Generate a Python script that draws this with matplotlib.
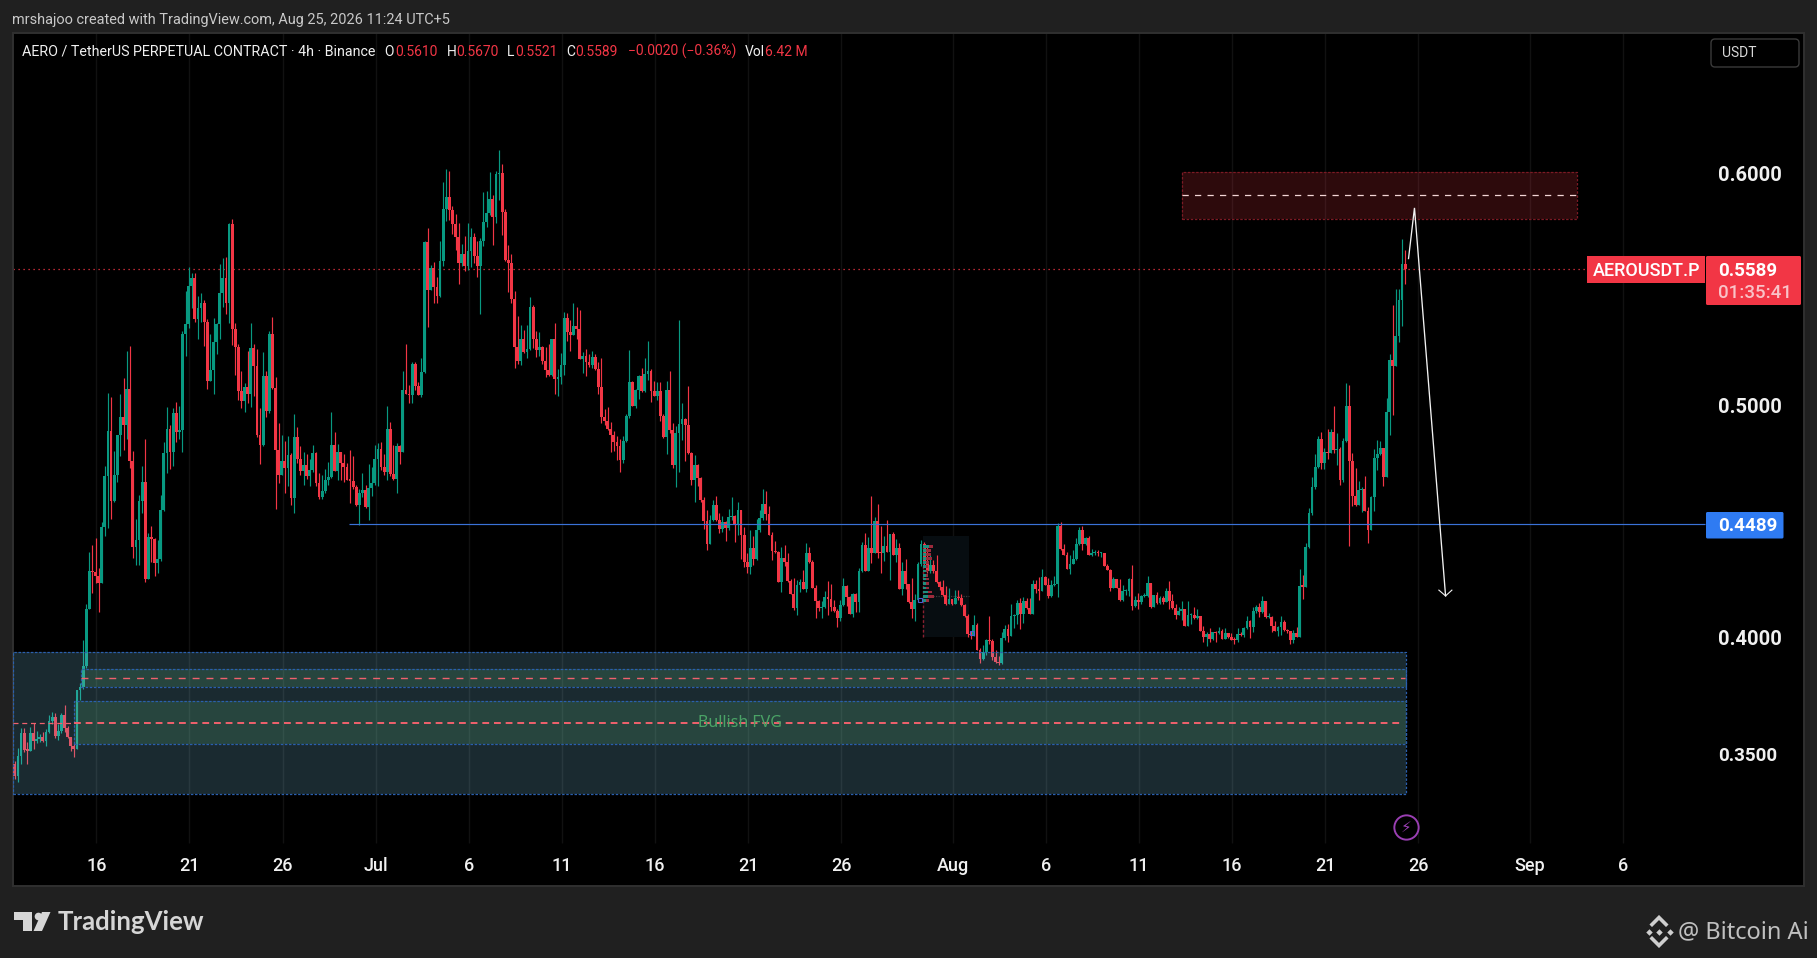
import numpy as np
import matplotlib
matplotlib.use("Agg")
import matplotlib.pyplot as plt
from matplotlib.patches import Rectangle, FancyBboxPatch, Polygon

# 4h candles, open of each bar is the close of the one before
first_open = 0.3458
closes = [
    .3406,.3492,.3591,.3518,.3516,.3591,.3558,.3565,.3573,.3557,
    .3595,.3641,.3661,.3578,.3598,.3669,.3614,.3575,.3535,.3522,
    .3776,.3788,.3879,.4123,.4288,.4285,.4267,.4238,.4477,.4697,
    .4890,.4591,.4700,.4872,.4951,.4918,.5071,.4763,.4393,.4421,
    .4589,.4671,.4255,.4434,.4427,.4324,.4340,.4549,.4796,.4899,
    .4801,.4968,.4885,.4893,.5308,.5351,.5514,.5549,.5371,.5420,
    .5441,.5358,.5107,.5153,.5273,.5351,.5484,.5549,.5440,.5781,
    .5329,.5253,.5064,.5021,
    .5079,.5049,.5247,.5171,.4871,.4831,.5127,.4978,.5307,.5075,
    .4810,.4701,.4761,.4731,.4787,.4602,.4864,.4770,.4718,.4744,
    .4697,.4722,.4795,.4666,.4606,.4632,.4679,.4692,.4830,.4718,
    .4800,.4752,.4735,.4679,.4677,.4649,.4572,.4622,.4635,.4563,
    .4645,.4666,.4770,.4813,.4735,.4714,.4899,.4705,.4684,.4826,
    .4800,.5067,.5049,.5045,.5178,.5084,.5045,.5144,.5703,.5497,
    .5591,.5510,.5471,.5621,.5845,.5897,.5841,.5781,.5725,.5613,
    .5652,.5600,.5664,.5725,.5643,.5600,.5708,.5789,.5828,.5888,
    .5811,.5996,.6000,.5832,.5626,.5613,.5458,.5252,.5191,.5286,
    .5230,.5243,.5424,.5286,.5239,.5252,.5191,.5153,.5131,.5286,
    .5114,.5122,.5174,.5376,.5316,.5303,.5342,.5329,.5200,.5213,
    .5187,.5174,.5208,.5157,.5079,.4950,.4933,.4899,.4873,.4843,
    .4826,.4765,.4847,.4955,.5101,.4998,.5067,.5127,.5062,.5135,
    .5148,.5062,.5041,.5062,.4955,.4864,.5067,.4894,.4744,.4882,
    .4920,.4942,.4916,.4795,.4679,.4744,.4688,.4593,.4503,.4404,
    .4508,.4572,.4508,.4469,.4498,.4472,.4519,.4525,.4488,.4551,
    .4443,.4327,.4306,.4387,.4340,.4465,.4516,.4577,.4534,.4443,
    .4374,.4370,.4241,.4344,.4327,.4245,.4189,.4129,.4228,.4241,
    .4211,.4366,.4327,.4215,.4159,.4129,.4135,.4177,.4168,.4134,
    .4116,.4086,.4142,.4224,.4177,.4103,.4189,.4155,.4288,.4400,
    .4288,.4387,.4366,.4504,.4366,.4364,.4396,.4370,.4448,.4357,
    .4387,.4211,.4288,.4232,.4155,.4125,.4164,.4319,.4405,.4329,
    .4288,.4316,.4288,.4241,.4218,
    .4185,.4147,.4168,.4147,.4172,.4170,.4142,.4095,.4018,.4014,
    .4056,.3949,.3910,.3940,.3992,.3987,.3919,.3897,.3893,.4000,
    .4039,.4009,.4095,.4099,.4151,.4104,.4159,.4129,.4104,.4233,
    .4211,.4203,.4263,.4228,.4181,.4228,.4233,.4482,.4383,.4357,
    .4297,.4319,.4339,.4405,.4465,.4405,.4431,.4357,.4366,.4367,
    .4365,.4366,.4310,.4293,.4215,.4254,.4217,.4164,.4201,.4204,
    .4254,.4138,.4164,.4155,.4181,.4182,.4237,.4134,.4185,.4151,
    .4172,.4155,.4203,.4159,
    .4130,.4099,.4116,.4125,.4051,.4099,.4100,.4084,.4094,.4031,
    .4006,.4017,.3996,.4024,.4020,.4029,.3996,.4020,.4006,.3993,
    .3991,.4017,.4014,.4043,.4071,.4049,.4115,.4135,.4110,.4159,
    .4089,.4092,.4051,.4031,.4046,.4069,.4034,.4030,.3991,.4020,
    .4006,.4224,.4221,.4391,.4538,.4649,.4735,.4856,.4753,.4800,
    .4794,.4886,.4809,.4811,.4680,.4847,.4998,.4761,.4611,.4572,
    .4636,.4641,.4546,.4464,.4606,.4774,.4791,.4817,.4692,.4972,
    .5196,.5170,.5299,.5454,.5609,.5589,
]
highs = [
    .3471,.3525,.3613,.3611,.3554,.3618,.3633,.3601,.3587,.3597,
    .3607,.3669,.3682,.3676,.3630,.3676,.3712,.3621,.3575,.3547,
    .3776,.3805,.3991,.4146,.4370,.4400,.4430,.4300,.4500,.4740,
    .5052,.5037,.4804,.4873,.5048,.5118,.5235,.5256,.4804,.4512,
    .4615,.4740,.4856,.4450,.4482,.4430,.4421,.4615,.4843,.4994,
    .4916,.4988,.5015,.4998,.5321,.5493,.5597,.5569,.5569,.5471,
    .5484,.5454,.5371,.5308,.5377,.5354,.5607,.5635,.5640,.5785,
    .5802,.5354,.5265,.5149,
    .5095,.5234,.5355,.5264,.5243,.4989,.5230,.5148,.5319,.5381,
    .5122,.4923,.4873,.4847,.4869,.4795,.4963,.4907,.4826,.4800,
    .4791,.4770,.4830,.4800,.4709,.4701,.4727,.4757,.4972,.4886,
    .4834,.4800,.4791,.4752,.4808,.4783,.4658,.4643,.4709,.4658,
    .4748,.4735,.4830,.4839,.4843,.4791,.4998,.4929,.4830,.4839,
    .4830,.5148,.5264,.5088,.5187,.5187,.5101,.5204,.5708,.5763,
    .5604,.5617,.5553,.5708,.5961,.6017,.6009,.5858,.5824,.5785,
    .5695,.5729,.5785,.5763,.5740,.5708,.5719,.5918,.5923,.6004,
    .5905,.6009,.6099,.6039,.5845,.5690,.5652,.5492,.5385,.5346,
    .5325,.5346,.5467,.5432,.5320,.5316,.5256,.5252,.5264,.5286,
    .5355,.5157,.5226,.5402,.5398,.5368,.5441,.5424,.5411,.5230,
    .5243,.5221,.5234,.5221,.5187,.5204,.4985,.4993,.4929,.4890,
    .4869,.4856,.4869,.4963,.5239,.5105,.5071,.5131,.5161,.5204,
    .5277,.5157,.5105,.5101,.5101,.4963,.5105,.5148,.4925,.4912,
    .5368,.5011,.4946,.5084,.4800,.4787,.4748,.4692,.4606,.4550,
    .4529,.4594,.4611,.4538,.4525,.4504,.4555,.4607,.4529,.4585,
    .4551,.4478,.4366,.4465,.4439,.4512,.4551,.4641,.4633,.4568,
    .4456,.4417,.4374,.4392,.4400,.4366,.4254,.4258,.4250,.4254,
    .4293,.4409,.4392,.4336,.4228,.4164,.4159,.4202,.4245,.4232,
    .4164,.4125,.4164,.4258,.4228,.4181,.4194,.4194,.4301,.4413,
    .4452,.4435,.4611,.4521,.4577,.4482,.4439,.4508,.4448,.4456,
    .4426,.4409,.4327,.4340,.4232,.4258,.4189,.4327,.4422,.4415,
    .4400,.4357,.4336,.4357,.4244,
    .4250,.4224,.4215,.4168,.4207,.4207,.4190,.4147,.4104,.4028,
    .4099,.4065,.3957,.3970,.3996,.4095,.3996,.3949,.3923,.4026,
    .4056,.4061,.4147,.4104,.4164,.4172,.4177,.4172,.4172,.4250,
    .4250,.4263,.4297,.4266,.4257,.4250,.4267,.4495,.4499,.4405,
    .4370,.4357,.4379,.4431,.4478,.4482,.4433,.4439,.4383,.4379,
    .4379,.4372,.4366,.4319,.4297,.4263,.4254,.4254,.4228,.4211,
    .4258,.4314,.4181,.4192,.4185,.4192,.4267,.4237,.4185,.4198,
    .4181,.4181,.4215,.4246,
    .4189,.4146,.4135,.4159,.4125,.4159,.4109,.4132,.4125,.4090,
    .4051,.4026,.4043,.4027,.4029,.4046,.4037,.4041,.4023,.4020,
    .4004,.4043,.4026,.4046,.4094,.4076,.4132,.4140,.4149,.4180,
    .4159,.4109,.4094,.4073,.4053,.4094,.4077,.4037,.4030,.4034,
    .4047,.4297,.4271,.4408,.4559,.4692,.4791,.4869,.4886,.4817,
    .4899,.4899,.4998,.4882,.4821,.4860,.5097,.5088,.4796,.4731,
    .4675,.4649,.4697,.4563,.4611,.4813,.4852,.4847,.4817,.5032,
    .5222,.5432,.5501,.5501,.5716,.5670,
]
lows = [
    .3392,.3382,.3458,.3511,.3458,.3518,.3521,.3550,.3552,.3554,
    .3535,.3591,.3630,.3570,.3561,.3590,.3597,.3568,.3514,.3489,
    .3522,.3733,.3779,.3869,.4123,.4195,.4235,.4113,.4238,.4440,
    .4472,.4512,.4586,.4672,.4783,.4809,.4857,.4733,.4345,.4315,
    .4315,.4539,.4242,.4255,.4328,.4268,.4281,.4333,.4545,.4711,
    .4728,.4741,.4843,.4857,.4801,.5213,.5335,.5421,.5361,.5288,
    .5358,.5256,.5072,.5110,.5050,.5222,.5285,.5425,.5394,.5354,
    .5260,.5131,.5024,.4991,
    .4973,.5009,.4995,.5041,.4864,.4748,.4826,.4952,.4968,.5069,
    .4555,.4666,.4701,.4623,.4654,.4572,.4537,.4754,.4701,.4658,
    .4682,.4654,.4714,.4654,.4598,.4600,.4625,.4658,.4688,.4718,
    .4679,.4679,.4671,.4679,.4580,.4641,.4567,.4484,.4606,.4559,
    .4507,.4610,.4658,.4654,.4722,.4701,.4679,.4697,.4679,.4623,
    .4748,.4800,.5049,.5011,.5011,.5067,.5045,.5036,.5140,.5338,
    .5497,.5441,.5441,.5467,.5600,.5794,.5798,.5738,.5669,.5523,
    .5600,.5578,.5583,.5596,.5611,.5553,.5393,.5686,.5768,.5819,
    .5690,.5785,.5884,.5733,.5621,.5488,.5441,.5161,.5178,.5174,
    .5226,.5204,.5239,.5247,.5208,.5213,.5178,.5122,.5127,.5127,
    .5049,.5041,.5092,.5131,.5277,.5234,.5303,.5286,.5200,.5140,
    .5127,.5165,.5161,.5153,.5049,.4925,.4916,.4894,.4800,.4804,
    .4765,.4714,.4752,.4843,.4946,.4998,.4989,.5028,.5058,.5058,
    .5110,.5015,.5041,.5023,.4933,.4860,.4791,.4882,.4731,.4649,
    .4714,.4851,.4761,.4791,.4658,.4585,.4654,.4585,.4469,.4378,
    .4405,.4504,.4505,.4452,.4456,.4417,.4465,.4508,.4415,.4443,
    .4340,.4306,.4280,.4276,.4314,.4336,.4456,.4508,.4508,.4443,
    .4336,.4366,.4241,.4198,.4310,.4241,.4189,.4121,.4099,.4198,
    .4211,.4198,.4321,.4215,.4086,.4116,.4086,.4129,.4099,.4116,
    .4112,.4048,.4073,.4138,.4138,.4103,.4091,.4112,.4112,.4284,
    .4288,.4288,.4321,.4366,.4344,.4280,.4331,.4370,.4250,.4357,
    .4327,.4211,.4185,.4211,.4149,.4085,.4073,.4159,.4310,.4307,
    .4278,.4278,.4278,.4235,.4207,
    .4181,.4142,.4147,.4142,.4147,.4164,.4138,.4092,.4005,.3995,
    .4008,.3949,.3893,.3906,.3927,.3975,.3906,.3893,.3884,.3888,
    .3992,.3983,.4009,.4043,.4061,.4039,.4065,.4125,.4104,.4104,
    .4194,.4164,.4203,.4228,.4172,.4177,.4224,.4177,.4379,.4357,
    .4297,.4276,.4319,.4336,.4400,.4379,.4400,.4357,.4353,.4357,
    .4353,.4350,.4310,.4293,.4201,.4215,.4215,.4159,.4159,.4185,
    .4181,.4121,.4134,.4125,.4147,.4178,.4177,.4129,.4134,.4147,
    .4147,.4147,.4155,.4125,
    .4123,.4082,.4099,.4077,.4051,.4051,.4060,.4082,.4082,.4031,
    .3984,.3965,.3983,.3991,.3984,.4017,.3996,.3996,.3998,.3991,
    .3974,.3983,.4008,.4006,.4037,.4000,.4027,.4106,.4092,.4106,
    .4086,.4086,.4027,.4031,.4008,.4013,.4030,.4020,.3974,.3980,
    .4003,.4006,.4168,.4219,.4387,.4529,.4641,.4731,.4727,.4727,
    .4770,.4794,.4794,.4744,.4658,.4671,.4843,.4397,.4568,.4568,
    .4581,.4542,.4546,.4408,.4464,.4546,.4723,.4787,.4654,.4692,
    .4873,.4959,.5170,.5273,.5342,.5521,
]

# x positions are days counted from 16 Jun
last_bar_day = 70.29
tick_days = [0, 5, 10, 15, 20, 25, 30, 35, 40, 46, 51, 56, 61, 66, 71, 77, 82]
tick_labels = ["16", "21", "26", "Jul", "6", "11", "16", "21", "26", "Aug",
               "6", "11", "16", "21", "26", "Sep", "6"]
price_ticks = [0.35, 0.40, 0.50, 0.60]
level_price = 0.4489
last_price = 0.5589

# drawings
supply_zone = (58.3, 79.5, 0.5804, 0.6004, 0.5904)
outer_zone = (-4.5, 70.32, 0.3328, 0.3938)
fvg_upper = (-0.80, 70.32, 0.3788, 0.3865, 0.3827)
fvg_lower = (-1.20, 70.32, 0.3543, 0.3729, 0.3636)
arrow_days = [70.47, 70.79, 72.46]
arrow_prices = [0.5632, 0.5850, 0.4181]
head_days = [72.10, 72.46, 72.80]
head_prices = [0.4206, 0.4181, 0.4206]
profile_prices = [.4393, .4376, .4359, .4341, .4324, .4307, .4288,
                  .4270, .4253, .4234, .4215, .4197, .4179, .4162]
profile_up = [.32, .16, .16, .16, .16, .16, .16, .16, .16, .16, .16, .27, .27, .16]
profile_down = [.21, .27, .27, .32, .16, .11, .11, .11, .16, .16, .16, .21, .32, .16]

UP = "#089981"
DOWN = "#f23645"
BG = "#202020"
W, H = 1817, 958
AX_L, AX_R, AX_T, AX_B = 12.6, 1804, 33, 886
FONT = "Roboto"

fig = plt.figure(figsize=(W / 100, H / 100), dpi=100, facecolor=BG)
ax = fig.add_axes([AX_L / W, 1 - AX_B / H, (AX_R - AX_L) / W, (AX_B - AX_T) / H], facecolor="black")
ax.set_xlim(-4.5, 91.71)
ax.set_ylim(0.29333, 0.66022)
for s in ax.spines.values():
    s.set_color("#303030")
    s.set_linewidth(1.4)

# vertical grid
ax.vlines(tick_days, 0.31183, 0.66022, color="#111111", lw=1, zorder=1)

# candles
closes = np.array(closes)
opens = np.r_[first_open, closes[:-1]]
highs = np.maximum(np.array(highs), np.maximum(opens, closes))
lows = np.minimum(np.array(lows), np.minimum(opens, closes))
days = last_bar_day - (len(closes) - 1 - np.arange(len(closes))) / 6
colors = np.where(closes >= opens, UP, DOWN)
ax.vlines(days, lows, highs, colors=colors, lw=0.85, zorder=3)
ax.bar(days, np.maximum(np.abs(closes - opens), 0.0005), bottom=np.minimum(opens, closes),
       width=0.15, color=colors, linewidth=0, zorder=3)

# zones go over the candles, they are see-through
def zone(x0, x1, y0, y1, fill, alpha, edge, zorder=4):
    ax.add_patch(Rectangle((x0, y0), x1 - x0, y1 - y0, facecolor=fill, alpha=alpha,
                           edgecolor="none", zorder=zorder))
    ax.add_patch(Rectangle((x0, y0), x1 - x0, y1 - y0, fill=False, edgecolor=edge,
                           lw=0.9, ls=(0, (2, 1.3)), zorder=zorder))

zone(*outer_zone, "#87d7f5", 0.20, "#2a5fae")
zone(*fvg_upper[:4], "#5cb277", 0.20, "#2a5fae")
zone(*fvg_lower[:4], "#5cb277", 0.20, "#2a5fae")
ax.hlines(fvg_upper[4], fvg_upper[0], 70.26, color="#f0616d", lw=1.0, ls=(0, (5, 5)), zorder=5)
ax.hlines(fvg_lower[4], -4.5, -1.2, color="#f0616d", lw=0.9, ls=(0, (4, 3)), zorder=5)
ax.hlines(fvg_lower[4], -1.2, 70.0, color="#f0616d", lw=1.4, ls=(0, (3.5, 2.5)), zorder=5)
ax.text(34.55, fvg_lower[4], "Bullish FVG", color="#4aa366", fontsize=11.5, ha="center", va="center",
        family="Noto Sans", zorder=6)

zone(supply_zone[0], supply_zone[1], supply_zone[2], supply_zone[3], "#f23645", 0.19, "#7c1a24", zorder=2)
ax.hlines(supply_zone[4], supply_zone[0], supply_zone[1], color="#f3d5d5", lw=0.9, ls=(0, (5, 5)), zorder=5)

# last price and level lines
ax.hlines(last_price, -4.5, 80.05, color=DOWN, lw=0.9, ls=(0, (1, 3)), zorder=2)
ax.hlines(level_price, 13.57, 86.4, color="#3a72d8", lw=0.85, zorder=5)

# small anchored profile around the end of July
ax.add_patch(Rectangle((44.41, 0.4004), 2.45, 0.0435, facecolor="#070d11", edgecolor="none", zorder=2))
ax.hlines(0.4179, 44.41, 46.86, color="#3a3a3a", lw=0.9, ls=(0, (1, 1)), zorder=2)
ax.vlines(44.41, 0.4004, 0.4400, color="#8a2030", lw=1, ls=(0, (2, 1.5)), zorder=4)
ax.barh(profile_prices, profile_up, left=44.41, height=0.0011, color="#1f8f7e", zorder=4)
ax.barh(profile_prices, profile_down, left=44.41 + np.array(profile_up), height=0.0011, color="#9c2a3b", zorder=4)
ax.plot([44.25, 47.05], [0.4165, 0.4020], ls="none", marker="s", ms=3.5, mfc="none", mec="#4a5fd0", mew=0.8, zorder=6)

# forecast arrow
ax.plot(arrow_days, arrow_prices, color="#f2f2f2", lw=0.95, zorder=7, solid_joinstyle="miter")
ax.plot(head_days, head_prices, color="#f2f2f2", lw=0.8, zorder=7)

# lightning badge
ax.plot([70.32], [0.3186], marker="o", ms=17.5, mfc="none", mec="#9a3fb3", mew=1.4, zorder=6)
ax.text(70.32, 0.3186, "\u26a1", color="#9a3fb3", fontsize=11, ha="center", va="center", family="DejaVu Sans", zorder=6)

# axes ticks sit inside the frame, like the chart's own scales
ax.set_xticks(tick_days)
ax.set_xticklabels(tick_labels, family=FONT, fontsize=13, color="#f0f0f0", fontweight="medium")
ax.tick_params(axis="x", length=0, pad=-21)
ax.yaxis.tick_right()
ax.set_yticks(price_ticks)
ax.set_yticklabels(["%.4f" % p for p in price_ticks], family=FONT, fontsize=14.5, color="#f0f0f0", fontweight="bold")
ax.get_yticklabels()[0].set_fontsize(13.5)
ax.tick_params(axis="y", length=0, pad=-62)

# overlay in pixels for the chart chrome
ov = fig.add_axes([0, 0, 1, 1], facecolor="none")
ov.set_xlim(0, W)
ov.set_ylim(H, 0)
ov.axis("off")

ov.text(12, 19.5, "mrshajoo created with TradingView.com, Aug 25, 2026 11:24 UTC+5", color="#c9c9c9",
        fontsize=10.45, family=FONT, va="center")

legend_items = [
    (22, "AERO / TetherUS PERPETUAL CONTRACT \u00b7 4h \u00b7 Binance", "#f0f0f0", 10.3),
    (384.6, "O", "#f0f0f0", 10), (395, "0.5610", DOWN, 10),
    (446.6, "H", "#f0f0f0", 10), (456, "0.5670", DOWN, 10),
    (507, "L", "#f0f0f0", 10), (515.5, "0.5521", DOWN, 10),
    (566, "C", "#f0f0f0", 10), (575, "0.5589", DOWN, 10),
    (628, "\u22120.0020 (\u22120.36%)", DOWN, 10),
    (745, "Vol", "#f0f0f0", 10), (765, "6.42 M", DOWN, 10),
]
for x, txt, col, size in legend_items:
    ov.text(x, 51.5, txt, color=col, fontsize=size, family=FONT, va="center")

# USDT button
ov.add_patch(FancyBboxPatch((1711, 39), 88, 28, boxstyle="round,pad=0,rounding_size=4",
                            facecolor="black", edgecolor="#3a3a3a", lw=1))
ov.text(1722, 53, "USDT", color="#d8d8d8", fontsize=10, family=FONT, va="center")

# price labels
ov.add_patch(Rectangle((1587, 256), 118, 27, color=DOWN, lw=0))
ov.text(1593, 270.5, "AEROUSDT.P", color="white", fontsize=13, family=FONT, fontweight="medium", va="center")
ov.add_patch(FancyBboxPatch((1706, 256), 95, 49, boxstyle="round,pad=0,rounding_size=1.5", color=DOWN, lw=0))
ov.text(1718, 270.5, "%.4f" % last_price, color="white", fontsize=13.5, family=FONT, fontweight="bold", va="center")
ov.text(1718, 293, "01:35:41", color="#f9c3c8", fontsize=13.5, family=FONT, fontweight="medium", va="center")
ov.add_patch(FancyBboxPatch((1706, 512), 77.5, 26.5, boxstyle="round,pad=0,rounding_size=1.5", color="#2f7bf2", lw=0))
ov.text(1718, 526, "%.4f" % level_price, color="white", fontsize=13.5, family=FONT, fontweight="bold", va="center")

# footer logos
ov.add_patch(Polygon([(14, 912), (31.5, 912), (31.5, 931), (23, 931), (23, 920), (14, 920)], color="#d6d6d6", lw=0))
ov.plot([37.5], [916], marker="o", ms=5.5, color="#d6d6d6", mew=0)
ov.add_patch(Polygon([(42, 912), (50.5, 912), (42, 931), (33.5, 931)], color="#d6d6d6", lw=0))
ov.text(58, 922.5, "TradingView", color="#d6d6d6", fontsize=18.5, family="Lato", fontweight="bold", va="center")

bx, by = 1659, 931.5
ov.plot([bx, bx - 10.5, bx + 10.5], [by, by, by], ls="none", marker="D", ms=3.3, color="#cfcfcf", mew=0)
ov.plot([bx - 7, bx, bx + 7], [by - 7, by - 14, by - 7], color="#cfcfcf", lw=2.6, solid_joinstyle="miter")
ov.plot([bx - 7, bx, bx + 7], [by + 7, by + 14, by + 7], color="#cfcfcf", lw=2.6, solid_joinstyle="miter")
ov.text(1678, 932, "@ Bitcoin Ai", color="#c0c0c0", fontsize=17, family="Noto Sans", va="center")

fig.savefig("out.png", dpi=100, facecolor=BG)
